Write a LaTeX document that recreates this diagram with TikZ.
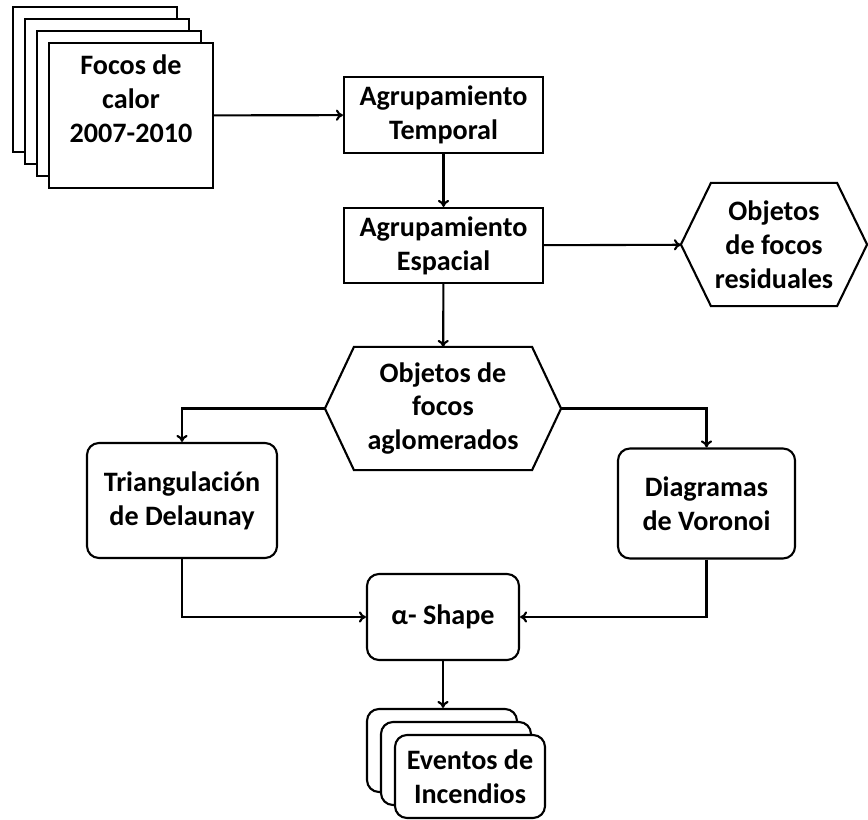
\documentclass[tikz,border=0pt]{standalone}
\usepackage{fontspec}
\setmainfont{Carlito}
\usetikzlibrary{shadows,arrows.meta}

\begin{document}
\begin{tikzpicture}[x=0.025cm,y=-0.025cm,line width=1.5pt,>={To[length=5pt,width=8pt]},
  every node/.style={font=\fontsize{20}{24}\selectfont\bfseries,align=center,inner sep=0pt},
  box/.style={draw,fill=white,rectangle},
  rbox/.style={draw,fill=white,rectangle,rounded corners=0.3cm},
  hex/.style={rectangle}]
 \useasboundingbox (0,0) rectangle (868,820);
 %\draw[step=50, gray, very thin] (0,0) grid (868,820);
 \node[box,minimum width=4.1cm,minimum height=3.625cm,
   copy shadow={shadow xshift=-0.9cm,shadow yshift=0.9cm},
   copy shadow={shadow xshift=-0.6cm,shadow yshift=0.6cm},
   copy shadow={shadow xshift=-0.3cm,shadow yshift=0.3cm}] (foc) at (131,115.5) {Focos de\\calor\\2007-2010\\ \mbox{}};
 \node[box,minimum width=4.975cm,minimum height=1.9cm] (tem) at (443.5,115) {Agrupamiento\\Temporal};
 \node[box,minimum width=4.975cm,minimum height=1.875cm] (esp) at (443.5,245.5) {Agrupamiento\\Espacial};
 \node[hex,minimum width=4.6cm,minimum height=3.025cm] (res) at (774,244.5) {Objetos\\de focos\\residuales};
 \node[hex,minimum width=5.85cm,minimum height=3.025cm] (agl) at (443,408.5) {Objetos de\\focos\\aglomerados};
 \node[rbox,minimum width=4.75cm,minimum height=2.875cm] (del) at (182,500.5) {Triangulación\\de Delaunay};
 \node[rbox,minimum width=4.425cm,minimum height=2.75cm] (vor) at (706.5,503.5) {Diagramas\\de Voronoi};
 \node[rbox,minimum width=3.8cm,minimum height=2.15cm] (alp) at (443,617) {α- Shape};
 \node[rbox,minimum width=3.75cm,minimum height=2.075cm,
   copy shadow={shadow xshift=-0.7cm,shadow yshift=0.65cm},
   copy shadow={shadow xshift=-0.35cm,shadow yshift=0.325cm}] (eve) at (470,776.5) {Eventos de\\Incendios};
 \coordinate (evetop) at ([yshift=0.65cm]eve.north);

 % hexagons
 \draw (res.west) -- ([xshift=0.75cm]res.north west) -- ([xshift=-0.75cm]res.north east) -- (res.east)
   -- ([xshift=-0.75cm]res.south east) -- ([xshift=0.75cm]res.south west) -- cycle;
 \draw (agl.west) -- ([xshift=0.725cm]agl.north west) -- ([xshift=-0.725cm]agl.north east) -- (agl.east)
   -- ([xshift=-0.725cm]agl.south east) -- ([xshift=0.725cm]agl.south west) -- cycle;

 \draw[->] (foc) -- (tem);
 \draw[->] (tem) -- (esp);
 \draw[->] (esp) -- (res);
 \draw[->] (esp) -- (agl);
 \draw[->] (agl.west) -| (del.north);
 \draw[->] (agl.east) -| (vor.north);
 \draw[->] (del.south) |- (alp.west);
 \draw[->] (vor.south) |- (alp.east);
 \draw[->] (alp.south) -- (alp.south |- evetop);
\end{tikzpicture}
\end{document}
